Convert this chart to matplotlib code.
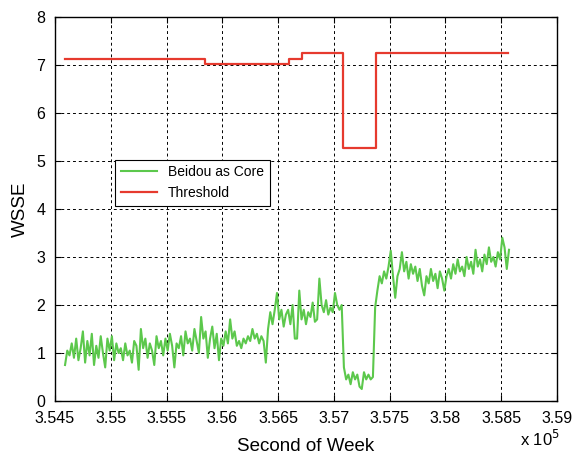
import numpy as np
import matplotlib
matplotlib.use('Agg')
import matplotlib.pyplot as plt
from matplotlib.ticker import FixedLocator, FuncFormatter

plt.rcParams['font.family'] = ['Liberation Sans', 'DejaVu Sans']

# Green series: WSSE sampled every 20 s from t0
t0 = 354590
dt = 20
wsse = [
    0.75, 1.05, 0.95, 1.2, 0.9, 1.3, 0.85, 1.1, 1.45, 0.8, 1.25, 0.95, 1.4, 0.75, 1.15, 0.9, 1.35, 1.0, 0.7, 1.3,
    1.05, 1.35, 0.85, 1.2, 1.0, 1.1, 0.85, 1.2, 0.95, 1.05, 0.8, 1.25, 1.15, 0.65, 1.5, 1.1, 1.3, 0.9, 1.2, 1.05,
    0.75, 1.35, 1.1, 1.25, 0.95, 1.3, 1.05, 1.4, 1.15, 0.7, 1.2, 1.1, 1.35, 0.95, 1.45, 1.2, 1.3, 1.05, 1.5, 1.25,
    1.0, 1.75, 1.3, 1.45, 0.9, 1.3, 1.55, 1.1, 1.4, 0.85, 1.3, 1.15, 1.45, 1.2, 1.7, 1.3, 1.45, 1.15, 1.25, 1.1,
    1.3, 1.2, 1.35, 1.25, 1.5, 1.3, 1.4, 1.2, 1.35, 1.25, 0.8, 1.5, 1.85, 1.6, 1.9, 2.25, 1.7, 1.9, 1.55, 1.8,
    1.9, 1.6, 2.0, 1.3, 1.3, 2.3, 1.7, 1.9, 1.6, 1.85, 1.75, 2.05, 1.65, 1.7, 2.55, 2.0, 1.85, 2.1, 1.8, 1.95,
    1.85, 2.25, 2.0, 1.9, 2.0, 0.7, 0.45, 0.55, 0.35, 0.6, 0.45, 0.55, 0.3, 0.25, 0.6, 0.45, 0.55, 0.45, 0.5, 1.95,
    2.3, 2.6, 2.45, 2.7, 2.55, 2.8, 3.13, 2.6, 2.15, 2.6, 2.75, 3.1, 2.7, 2.9, 2.55, 2.85, 2.65, 2.8, 2.5, 2.75,
    2.4, 2.2, 2.6, 2.45, 2.75, 2.5, 2.65, 2.35, 2.7, 2.55, 2.3, 2.6, 2.75, 2.55, 2.85, 2.65, 2.95, 2.7, 2.8, 2.6,
    3.0, 2.75, 2.9, 2.65, 3.15, 2.8, 2.95, 2.7, 3.05, 2.85, 3.2, 2.9, 3.0, 2.8, 3.1, 2.95, 3.4, 3.2, 2.75, 3.15,
]
sow = t0 + dt * np.arange(len(wsse))

# Red threshold steps (time of change, value)
thr_t = [354590, 355845, 356598, 356714, 357083, 357375, 358563]
thr_v = [7.13, 7.02, 7.13, 7.24, 5.28, 7.24, 7.24]

fig = plt.figure(figsize=(5.82, 4.57), dpi=100)
ax = fig.add_axes([0.0945, 0.1225, 0.8625, 0.8405])

ax.plot(sow, wsse, color='#5cc84c', lw=1.5, label='Beidou as Core')
ax.step(thr_t, thr_v, where='post', color='#e63a2e', lw=1.6, label='Threshold')

ax.set_xlim(354500, 359000)
ax.set_ylim(0, 8)
ax.xaxis.set_major_locator(FixedLocator(np.arange(354500, 359001, 500)))
ax.xaxis.set_major_formatter(FuncFormatter(lambda v, p: '%g' % round(v / 1e5, 4)))
ax.set_yticks(range(0, 9))
ax.tick_params(direction='in', labelsize=11.5, length=4, top=True, right=True)
ax.tick_params(axis='x', pad=7)
ax.tick_params(axis='y', pad=7)
ax.grid(True, color='k', ls=(0, (3, 3)), lw=0.7)
for s in ax.spines.values():
    s.set_linewidth(1.0)

ax.set_xlabel('Second of Week', fontsize=13.5, labelpad=9)
ax.set_ylabel('WSSE', fontsize=13.5, labelpad=5)
ax.text(0.926, -0.10, r'x 10$^5$', transform=ax.transAxes, fontsize=12, ha='left', va='center')

leg = ax.legend(loc='upper left', bbox_to_anchor=(0.12, 0.628), fontsize=10, fancybox=False,
                framealpha=1, edgecolor='k', handlelength=2.6, borderaxespad=0)
leg.get_frame().set_linewidth(0.8)

fig.savefig('out.png', dpi=100)
